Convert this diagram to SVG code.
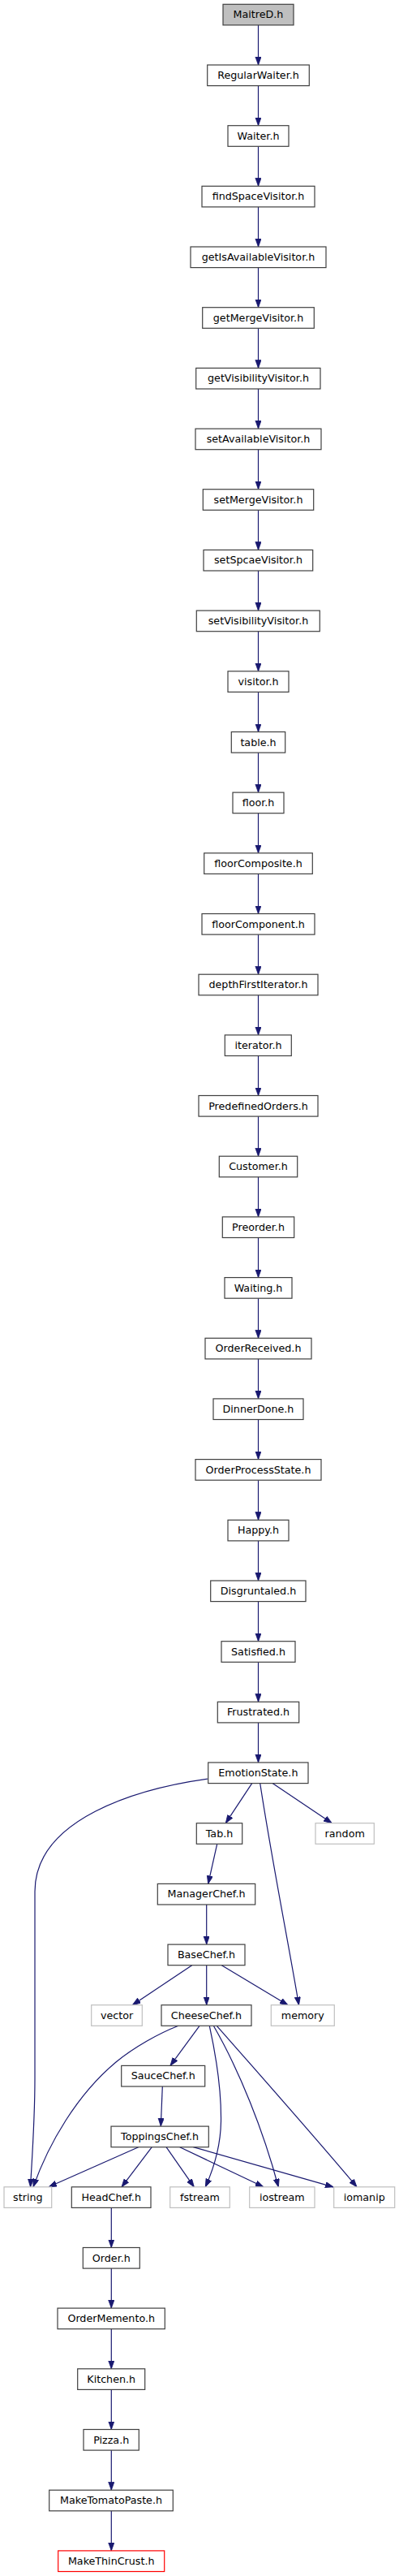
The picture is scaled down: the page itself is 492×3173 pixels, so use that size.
<svg xmlns="http://www.w3.org/2000/svg" width="492" height="3173" viewBox="0 0 492 3173">
<style>
.n rect{fill:#ffffff;stroke:#404040;stroke-width:1.2}
.n.cur rect{fill:#bfbfbf}
.n.ext rect{stroke:#bfbfbf}
.n.trunc rect{stroke:#ff0000}
.n text{font-family:"DejaVu Sans",sans-serif;font-size:12.7px;fill:#000;text-anchor:middle}
.e path{fill:none;stroke:#191970;stroke-width:1.2}
</style>
<defs>
<marker id="ah" markerUnits="userSpaceOnUse" markerWidth="11" markerHeight="8" refX="10" refY="3.6" orient="auto">
<path d="M0,0 L10,3.6 L0,7.2 z" fill="#191970" stroke="#191970" stroke-width="0.8"/>
</marker>
</defs>
<g id="edges" class="e" marker-end="url(#ah)">
<path d="M318.5,30.9 V80"/>
<path d="M318.5,105.6 V154.7"/>
<path d="M318.5,180.3 V229.3"/>
<path d="M318.5,254.9 V304"/>
<path d="M318.5,329.6 V378.7"/>
<path d="M318.5,404.3 V453.4"/>
<path d="M318.5,479 V528.1"/>
<path d="M318.5,553.7 V602.7"/>
<path d="M318.5,628.3 V677.4"/>
<path d="M318.5,703 V752.1"/>
<path d="M318.5,777.7 V826.8"/>
<path d="M318.5,852.4 V901.5"/>
<path d="M318.5,927.1 V976.1"/>
<path d="M318.5,1001.7 V1050.8"/>
<path d="M318.5,1076.4 V1125.5"/>
<path d="M318.5,1151.1 V1200.2"/>
<path d="M318.5,1225.8 V1274.9"/>
<path d="M318.5,1300.5 V1349.5"/>
<path d="M318.5,1375.1 V1424.2"/>
<path d="M318.5,1449.8 V1498.9"/>
<path d="M318.5,1524.5 V1573.6"/>
<path d="M318.5,1599.2 V1648.3"/>
<path d="M318.5,1673.9 V1722.9"/>
<path d="M318.5,1748.5 V1797.6"/>
<path d="M318.5,1823.2 V1872.3"/>
<path d="M318.5,1897.9 V1947"/>
<path d="M318.5,1972.6 V2021.7"/>
<path d="M318.5,2047.3 V2096.3"/>
<path d="M318.5,2121.9 V2171"/>
<path d="M256.7,2191 C170,2203 43,2240 43,2330 L43,2560 C43,2610 40,2650 37.5,2693.8"/>
<path d="M310.7,2196.6 L278.3,2245.7"/>
<path d="M320.7,2196.6 C335,2290 355,2390 368.5,2469.7"/>
<path d="M336,2196.6 L409.3,2245.7"/>
<path d="M267.7,2271.3 L256.7,2320.4"/>
<path d="M254.7,2346 V2395.1"/>
<path d="M236.7,2420.7 L163.3,2469.7"/>
<path d="M254.7,2420.7 V2469.7"/>
<path d="M273.3,2420.7 L355,2469.7"/>
<path d="M220,2495.3 C195,2505 165,2522 143,2540 C95,2580 60,2640 41,2693.8"/>
<path d="M246,2495.3 L210,2544.4"/>
<path d="M258.3,2495.3 C267,2535 273,2575 272.5,2613 C272,2645 264,2670 253.3,2693.8"/>
<path d="M263.3,2495.3 C295,2550 325,2625 343.3,2693.8"/>
<path d="M267.3,2495.3 C320,2555 395,2640 440,2693.8"/>
<path d="M200.3,2570 L198.3,2619.1"/>
<path d="M170.7,2644.7 L60,2693.8"/>
<path d="M187.3,2644.7 L150,2693.8"/>
<path d="M205,2644.7 L239.3,2693.8"/>
<path d="M221.7,2644.7 L325,2693.8"/>
<path d="M238.3,2644.7 L411,2693.8"/>
<path d="M137.3,2719.4 V2768.5"/>
<path d="M137.3,2794.1 V2843.1"/>
<path d="M137.3,2868.7 V2917.8"/>
<path d="M137.3,2943.4 V2992.5"/>
<path d="M137.3,3018.1 V3067.2"/>
<path d="M137.3,3092.8 V3141.9"/>
</g>
<g id="MaitreD" class="n cur"><rect x="275" y="5.3" width="87" height="25.6"/><text x="318.5" y="22.3">MaitreD.h</text></g>
<g id="RegularWaiter" class="n"><rect x="255.7" y="80" width="125.6" height="25.6"/><text x="318.5" y="97">RegularWaiter.h</text></g>
<g id="Waiter" class="n"><rect x="281" y="154.7" width="75" height="25.6"/><text x="318.5" y="171.7">Waiter.h</text></g>
<g id="findSpaceVisitor" class="n"><rect x="249" y="229.3" width="139" height="25.6"/><text x="318.5" y="246.3">findSpaceVisitor.h</text></g>
<g id="getIsAvailableVisitor" class="n"><rect x="235" y="304" width="167" height="25.6"/><text x="318.5" y="321">getIsAvailableVisitor.h</text></g>
<g id="getMergeVisitor" class="n"><rect x="249.7" y="378.7" width="137.6" height="25.6"/><text x="318.5" y="395.7">getMergeVisitor.h</text></g>
<g id="getVisibilityVisitor" class="n"><rect x="241.7" y="453.4" width="153.3" height="25.6"/><text x="318.5" y="470.4">getVisibilityVisitor.h</text></g>
<g id="setAvailableVisitor" class="n"><rect x="241" y="528.1" width="155" height="25.6"/><text x="318.5" y="545.1">setAvailableVisitor.h</text></g>
<g id="setMergeVisitor" class="n"><rect x="250.3" y="602.7" width="136.4" height="25.6"/><text x="318.5" y="619.7">setMergeVisitor.h</text></g>
<g id="setSpcaeVisitor" class="n"><rect x="251" y="677.4" width="134.7" height="25.6"/><text x="318.5" y="694.4">setSpcaeVisitor.h</text></g>
<g id="setVisibilityVisitor" class="n"><rect x="242.3" y="752.1" width="152" height="25.6"/><text x="318.5" y="769.1">setVisibilityVisitor.h</text></g>
<g id="visitor" class="n"><rect x="281" y="826.8" width="75" height="25.6"/><text x="318.5" y="843.8">visitor.h</text></g>
<g id="table" class="n"><rect x="285.3" y="901.5" width="66.4" height="25.6"/><text x="318.5" y="918.5">table.h</text></g>
<g id="floor" class="n"><rect x="287" y="976.1" width="63" height="25.6"/><text x="318.5" y="993.1">floor.h</text></g>
<g id="floorComposite" class="n"><rect x="251.7" y="1050.8" width="133.6" height="25.6"/><text x="318.5" y="1067.8">floorComposite.h</text></g>
<g id="floorComponent" class="n"><rect x="249" y="1125.5" width="139" height="25.6"/><text x="318.5" y="1142.5">floorComponent.h</text></g>
<g id="depthFirstIterator" class="n"><rect x="245" y="1200.2" width="147" height="25.6"/><text x="318.5" y="1217.2">depthFirstIterator.h</text></g>
<g id="iterator" class="n"><rect x="277.3" y="1274.9" width="82" height="25.6"/><text x="318.5" y="1291.9">iterator.h</text></g>
<g id="PredefinedOrders" class="n"><rect x="245" y="1349.5" width="147" height="25.6"/><text x="318.5" y="1366.5">PredefinedOrders.h</text></g>
<g id="Customer" class="n"><rect x="270.3" y="1424.2" width="96.4" height="25.6"/><text x="318.5" y="1441.2">Customer.h</text></g>
<g id="Preorder" class="n"><rect x="274.3" y="1498.9" width="88.4" height="25.6"/><text x="318.5" y="1515.9">Preorder.h</text></g>
<g id="Waiting" class="n"><rect x="277" y="1573.6" width="83" height="25.6"/><text x="318.5" y="1590.6">Waiting.h</text></g>
<g id="OrderReceived" class="n"><rect x="253" y="1648.3" width="131" height="25.6"/><text x="318.5" y="1665.3">OrderReceived.h</text></g>
<g id="DinnerDone" class="n"><rect x="263" y="1722.9" width="111" height="25.6"/><text x="318.5" y="1739.9">DinnerDone.h</text></g>
<g id="OrderProcessState" class="n"><rect x="241" y="1797.6" width="155" height="25.6"/><text x="318.5" y="1814.6">OrderProcessState.h</text></g>
<g id="Happy" class="n"><rect x="281" y="1872.3" width="75" height="25.6"/><text x="318.5" y="1889.3">Happy.h</text></g>
<g id="Disgruntaled" class="n"><rect x="259.7" y="1947" width="117.3" height="25.6"/><text x="318.5" y="1964">Disgruntaled.h</text></g>
<g id="Satisfied" class="n"><rect x="273" y="2021.7" width="91" height="25.6"/><text x="318.5" y="2038.7">Satisfied.h</text></g>
<g id="Frustrated" class="n"><rect x="268.3" y="2096.3" width="100.4" height="25.6"/><text x="318.5" y="2113.3">Frustrated.h</text></g>
<g id="EmotionState" class="n"><rect x="256.7" y="2171" width="123.3" height="25.6"/><text x="318.4" y="2188">EmotionState.h</text></g>
<g id="Tab" class="n"><rect x="242.3" y="2245.7" width="56.4" height="25.6"/><text x="270.5" y="2262.7">Tab.h</text></g>
<g id="random" class="n ext"><rect x="389" y="2245.7" width="72.3" height="25.6"/><text x="425.2" y="2262.7">random</text></g>
<g id="ManagerChef" class="n"><rect x="194.3" y="2320.4" width="120.4" height="25.6"/><text x="254.5" y="2337.4">ManagerChef.h</text></g>
<g id="BaseChef" class="n"><rect x="207" y="2395.1" width="95" height="25.6"/><text x="254.5" y="2412.1">BaseChef.h</text></g>
<g id="vector" class="n ext"><rect x="112.7" y="2469.7" width="62.6" height="25.6"/><text x="144" y="2486.7">vector</text></g>
<g id="CheeseChef" class="n"><rect x="199" y="2469.7" width="111" height="25.6"/><text x="254.5" y="2486.7">CheeseChef.h</text></g>
<g id="memory" class="n ext"><rect x="334.3" y="2469.7" width="78" height="25.6"/><text x="373.3" y="2486.7">memory</text></g>
<g id="SauceChef" class="n"><rect x="149.7" y="2544.4" width="103" height="25.6"/><text x="201.2" y="2561.4">SauceChef.h</text></g>
<g id="ToppingsChef" class="n"><rect x="137" y="2619.1" width="120.3" height="25.6"/><text x="197.1" y="2636.1">ToppingsChef.h</text></g>
<g id="string" class="n ext"><rect x="5" y="2693.8" width="58.7" height="25.6"/><text x="34.3" y="2710.8">string</text></g>
<g id="HeadChef" class="n"><rect x="88.3" y="2693.8" width="97.7" height="25.6"/><text x="137.2" y="2710.8">HeadChef.h</text></g>
<g id="fstream" class="n ext"><rect x="209.7" y="2693.8" width="73.6" height="25.6"/><text x="246.5" y="2710.8">fstream</text></g>
<g id="iostream" class="n ext"><rect x="307.7" y="2693.8" width="80.3" height="25.6"/><text x="347.8" y="2710.8">iostream</text></g>
<g id="iomanip" class="n ext"><rect x="411.7" y="2693.8" width="75" height="25.6"/><text x="449.2" y="2710.8">iomanip</text></g>
<g id="Order" class="n"><rect x="102.3" y="2768.5" width="70" height="25.6"/><text x="137.3" y="2785.5">Order.h</text></g>
<g id="OrderMemento" class="n"><rect x="71" y="2843.1" width="132.3" height="25.6"/><text x="137.2" y="2860.1">OrderMemento.h</text></g>
<g id="Kitchen" class="n"><rect x="95.7" y="2917.8" width="83" height="25.6"/><text x="137.2" y="2934.8">Kitchen.h</text></g>
<g id="Pizza" class="n"><rect x="103" y="2992.5" width="68.3" height="25.6"/><text x="137.2" y="3009.5">Pizza.h</text></g>
<g id="MakeTomatoPaste" class="n"><rect x="60.7" y="3067.2" width="152.6" height="25.6"/><text x="137" y="3084.2">MakeTomatoPaste.h</text></g>
<g id="MakeThinCrust" class="n trunc"><rect x="71.7" y="3141.9" width="131" height="25.6"/><text x="137.2" y="3158.9">MakeThinCrust.h</text></g>
</svg>
